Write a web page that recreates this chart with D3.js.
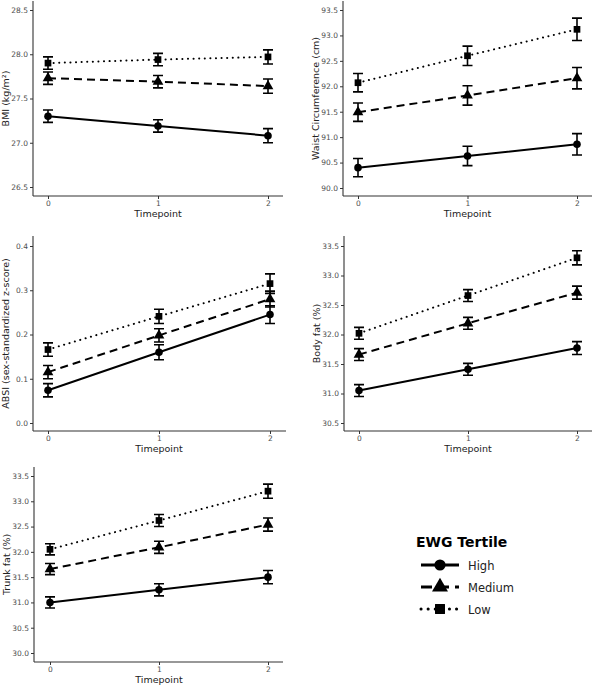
<!DOCTYPE html>
<html><head><meta charset="utf-8">
<script src="https://cdn.jsdelivr.net/npm/d3@7"></script>
<style>body{margin:0;background:#fff}svg{font-family:"DejaVu Sans",sans-serif}</style>
</head><body>
<svg id="c" width="594" height="685"></svg>
<script>
// ── Data ───────────────────────────────────────────────
const timepoints = [0, 1, 2];
const tertiles   = ["High", "Medium", "Low"];

const bmiMean   = { High: [27.30, 27.19, 27.08], Medium: [27.73, 27.69, 27.64], Low: [27.90, 27.94, 27.97] };
const bmiSe     = { High: [0.07, 0.07, 0.08],    Medium: [0.07, 0.07, 0.08],    Low: [0.07, 0.07, 0.08] };
const waistMean = { High: [90.40, 90.63, 90.86], Medium: [91.49, 91.82, 92.16], Low: [92.07, 92.60, 93.12] };
const waistSe   = { High: [0.18, 0.19, 0.21],    Medium: [0.18, 0.19, 0.21],    Low: [0.18, 0.19, 0.22] };
const absiMean  = { High: [0.074, 0.160, 0.245], Medium: [0.115, 0.198, 0.280], Low: [0.166, 0.241, 0.315] };
const absiSe    = { High: [0.015, 0.017, 0.020], Medium: [0.015, 0.015, 0.018], Low: [0.015, 0.016, 0.022] };
const bfMean    = { High: [31.05, 31.41, 31.77], Medium: [31.66, 32.19, 32.71], Low: [32.02, 32.66, 33.30] };
const bfSe      = { High: [0.10, 0.10, 0.11],    Medium: [0.10, 0.10, 0.11],    Low: [0.10, 0.10, 0.12] };
const tfMean    = { High: [31.00, 31.25, 31.50], Medium: [31.66, 32.09, 32.54], Low: [32.05, 32.62, 33.20] };
const tfSe      = { High: [0.11, 0.12, 0.13],    Medium: [0.11, 0.12, 0.13],    Low: [0.11, 0.12, 0.14] };

const bmiTicks   = [26.5, 27.0, 27.5, 28.0, 28.5];
const waistTicks = [90.0, 90.5, 91.0, 91.5, 92.0, 92.5, 93.0, 93.5];
const absiTicks  = [0.0, 0.1, 0.2, 0.3, 0.4];
const bfTicks    = [30.5, 31.0, 31.5, 32.0, 32.5, 33.0, 33.5];
const tfTicks    = [30.0, 30.5, 31.0, 31.5, 32.0, 32.5, 33.0, 33.5];

// ── Layout ─────────────────────────────────────────────
const panels = [
  { title: "BMI (kg/m²)", mean: bmiMean, se: bmiSe, ticks: bmiTicks,
    left: 33, top: 1, bottom: 196, right: 283, yPx: [187, 10], xPx: [48, 268] },
  { title: "Waist Circumference (cm)", mean: waistMean, se: waistSe, ticks: waistTicks,
    left: 343, top: 1, bottom: 196, right: 592, yPx: [188, 10], xPx: [358, 577] },
  { title: "ABSI (sex-standardized z-score)", mean: absiMean, se: absiSe, ticks: absiTicks,
    left: 33, top: 236, bottom: 431, right: 286, yPx: [423, 246], xPx: [48, 270] },
  { title: "Body fat (%)", mean: bfMean, se: bfSe, ticks: bfTicks,
    left: 344, top: 236, bottom: 431, right: 592, yPx: [423, 246], xPx: [359, 577] },
  { title: "Trunk fat (%)", mean: tfMean, se: tfSe, ticks: tfTicks,
    left: 34, top: 467, bottom: 662, right: 283, yPx: [653, 476], xPx: [50, 268] },
];

const dash  = { High: null, Medium: "8,5", Low: "0.1,5.5" };
const shape = { High: d3.symbolCircle, Medium: d3.symbolTriangle, Low: d3.symbolSquare };
const size  = { High: 45, Medium: 50, Low: 45 };

const svg = d3.select("#c");

panels.forEach(p => {
  const g = svg.append("g");
  const x = d3.scaleLinear().domain([0, 2]).range(p.xPx);
  const y = d3.scaleLinear().domain([p.ticks[0], p.ticks.at(-1)]).range(p.yPx);

  // axes lines
  g.append("line").attr("x1", p.left).attr("x2", p.left).attr("y1", p.top).attr("y2", p.bottom)
    .attr("stroke", "#333").attr("stroke-width", 1.1);
  g.append("line").attr("x1", p.left).attr("x2", p.right).attr("y1", p.bottom).attr("y2", p.bottom)
    .attr("stroke", "#333").attr("stroke-width", 1.1);

  g.append("g").attr("transform", `translate(${p.left},0)`)
    .call(d3.axisLeft(y).tickValues(p.ticks).tickSize(3).tickPadding(2).tickFormat(d3.format(".1f")))
    .call(ax => ax.select(".domain").remove())
    .call(ax => ax.selectAll("line").attr("stroke", "#333"))
    .call(ax => ax.selectAll("text").attr("fill", "#4d4d4d").attr("font-size", 7.5).attr("font-family", "DejaVu Sans"));

  g.append("g").attr("transform", `translate(0,${p.bottom})`)
    .call(d3.axisBottom(x).tickValues(timepoints).tickSize(3).tickPadding(2).tickFormat(d3.format("d")))
    .call(ax => ax.select(".domain").remove())
    .call(ax => ax.selectAll("line").attr("stroke", "#333"))
    .call(ax => ax.selectAll("text").attr("fill", "#4d4d4d").attr("font-size", 7.5).attr("font-family", "DejaVu Sans"));

  g.append("text").attr("x", (p.xPx[0] + p.xPx[1]) / 2).attr("y", p.bottom + 21)
    .attr("text-anchor", "middle").attr("font-size", 9.5).attr("fill", "#222").text("Timepoint");
  g.append("text")
    .attr("transform", `translate(${p.left - 24},${(p.top + p.bottom) / 2}) rotate(-90)`)
    .attr("text-anchor", "middle").attr("font-size", 9.5).attr("fill", "#222").text(p.title);

  tertiles.forEach(t => {
    const pts = timepoints.map((tp, i) => ({ tp, m: p.mean[t][i], s: p.se[t][i] }));
    g.append("path").datum(pts)
      .attr("d", d3.line().x(d => x(d.tp)).y(d => y(d.m)))
      .attr("fill", "none").attr("stroke", "#000").attr("stroke-width", 2)
      .attr("stroke-linecap", t === "Low" ? "round" : "butt")
      .attr("stroke-dasharray", dash[t]);
    pts.forEach(d => {
      const cx = x(d.tp), y0 = y(d.m - d.s), y1 = y(d.m + d.s);
      g.append("path")
        .attr("d", `M${cx - 5},${y0}H${cx + 5}M${cx},${y0}V${y1}M${cx - 5},${y1}H${cx + 5}`)
        .attr("fill", "none").attr("stroke", "#000").attr("stroke-width", 1.6);
      g.append("path").attr("transform", `translate(${cx},${y(d.m)})`)
        .attr("d", d3.symbol().type(shape[t]).size(size[t])()).attr("fill", "#000");
    });
  });
});

// ── Legend ─────────────────────────────────────────────
const lg = svg.append("g");
lg.append("text").attr("x", 416).attr("y", 547).attr("font-size", 14).attr("font-weight", "bold")
  .attr("fill", "#000").text("EWG Tertile");
tertiles.forEach((t, i) => {
  const yy = 565 + i * 22;
  lg.append("line").attr("x1", 421).attr("x2", 459).attr("y1", yy).attr("y2", yy)
    .attr("stroke", "#000").attr("stroke-width", 3)
    .attr("stroke-linecap", t === "Low" ? "round" : "butt")
    .attr("stroke-dasharray", t === "Medium" ? "11,6" : t === "Low" ? "0.1,7" : null);
  lg.append("path").attr("transform", `translate(440,${yy})`)
    .attr("d", d3.symbol().type(shape[t]).size(size[t] * 2.2)()).attr("fill", "#000");
  lg.append("text").attr("x", 468).attr("y", yy + 4.5).attr("font-size", 11.5).attr("fill", "#222").text(t);
});
</script>
</body></html>
